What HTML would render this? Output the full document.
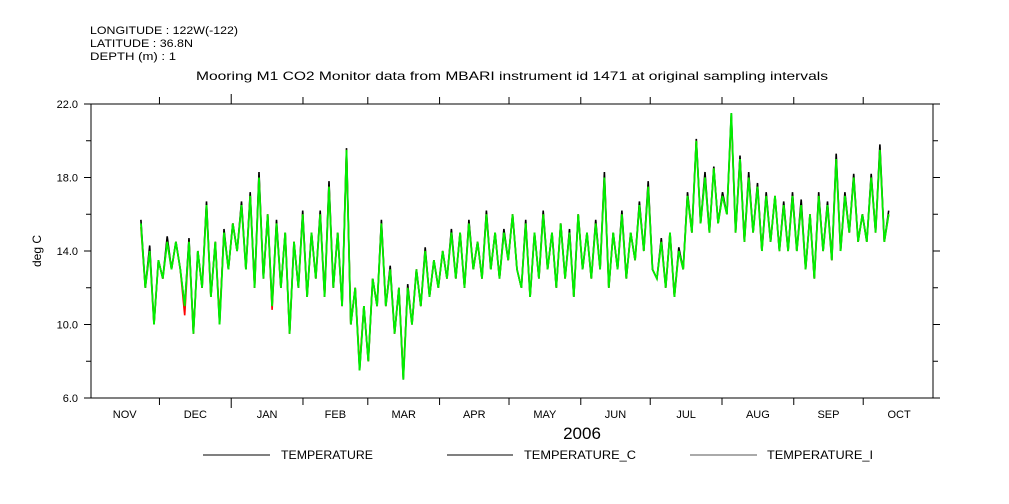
<!DOCTYPE html>
<html><head><meta charset="utf-8"><style>
body{margin:0;background:#fff;}
svg{display:block;font-family:"Liberation Sans",sans-serif;}
</style></head><body>
<svg id="chart" width="1009" height="504" viewBox="0 0 1009 504" xmlns="http://www.w3.org/2000/svg">
<rect width="1009" height="504" fill="#fff"/>
<g font-size="11" fill="#000">
<text x="90" y="34" textLength="148" lengthAdjust="spacingAndGlyphs">LONGITUDE : 122W(-122)</text>
<text x="90" y="47" textLength="103" lengthAdjust="spacingAndGlyphs">LATITUDE : 36.8N</text>
<text x="90" y="60" textLength="86" lengthAdjust="spacingAndGlyphs">DEPTH (m) : 1</text>
<text x="196" y="80" font-size="12" textLength="632" lengthAdjust="spacingAndGlyphs">Mooring M1 CO2 Monitor data from MBARI instrument id 1471 at original sampling intervals</text>
<text transform="translate(41,251) rotate(-90)" text-anchor="middle" font-size="12">deg C</text>
<text x="582" y="439" text-anchor="middle" font-size="17">2006</text>
</g>
<g id="axes"></g>
<g id="series"></g>
<g font-size="12">
<g><line x1="203" y1="455" x2="270" y2="455" stroke="#000"/><text x="281" y="459" textLength="92" lengthAdjust="spacingAndGlyphs">TEMPERATURE</text></g>
<g><line x1="447" y1="455" x2="513" y2="455" stroke="#000"/><text x="524" y="459" textLength="112" lengthAdjust="spacingAndGlyphs">TEMPERATURE_C</text></g>
<g><line x1="690" y1="455" x2="757" y2="455" stroke="#555"/><text x="767" y="459" textLength="106" lengthAdjust="spacingAndGlyphs">TEMPERATURE_I</text></g>
</g>
</svg>
<script>
const months=["NOV","DEC","JAN","FEB","MAR","APR","MAY","JUN","JUL","AUG","SEP","OCT"];
const monthDays=[30,31,31,28,31,30,31,30,31,31,30,31];
const yTicks=[6,10,14,18,22];
const yMinor=[8,12,16,20];
const startDay=22, endDay=345;
const tempI=[15.5,12,14,10,13.5,12.5,14.5,13,14.5,13,
11,14.5,9.5,14,12,16.5,11.5,14.5,10,15,13,15.5,14,16.5,13,17,
12,18,12.5,16,11,15.5,12,15,9.5,14.5,12,16,11.5,15,12.5,16,
11.5,17.5,12,15,11,19.5,10,12,7.5,11,8,12.5,11,15.5,
11,13,9.5,12,7,12,10,13,11,14,11.5,13.5,12,14,12.5,15,
12.5,15,12,15.5,13,14.5,12.5,16,13,15,12.5,15,13.5,16,13,
12,15.5,11.5,15,12.5,16,13,15,12,15.5,12.5,15,11.5,16,13,15,
12.5,15.5,13,18,12,15,13,16,12.5,15,13.5,16.5,14,17.5,13,
12.5,14.5,12,15,11.5,14,13,17,15,20,15.5,18,15,18.5,15.5,17,
16,21.5,15,19,14.5,18,15,17.5,14,17,14.5,17,14,16.5,14,17,
14,16.5,13,16,12.5,17,14,16.5,13.5,19,14,17,15,18,14.5,
16,14.5,18,15,19.5,14.5,16];
const tempBlack=[15.7,12,14.3,10,13.5,12.5,14.8,13,14.5,13,
11,14.7,9.5,14,12,16.7,11.5,14.5,10,15.2,13,15.5,14,16.7,13,17.2,
12,18.3,12.5,16,11,15.7,12,15,9.5,14.5,12,16.2,11.5,15,12.5,16.2,
11.5,17.8,12,15,11,19.6,10,12,7.5,11,8,12.5,11,15.7,
11,13.2,9.5,12,7,12.2,10,13,11,14.2,11.5,13.5,12,14,12.5,15.2,
12.5,15,12,15.7,13,14.5,12.5,16.2,13,15,12.5,15.2,13.5,16,13,
12,15.7,11.5,15,12.5,16.2,13,15,12,15.5,12.5,15.2,11.5,16,13,15,
12.5,15.7,13,18.3,12,15,13,16.2,12.5,15,13.5,16.7,14,17.8,13,
12.5,14.7,12,15,11.5,14.2,13,17.2,15,20.1,15.5,18.3,15,18.6,15.5,17.2,
16,21.5,15,19.2,14.5,18.3,15,17.7,14,17.2,14.5,17,14,16.7,14,17.2,
14,16.8,13,16,12.5,17.2,14,16.7,13.5,19.3,14,17.2,15,18.2,14.5,
16,14.5,18.2,15,19.8,14.5,16.2];
const tempC=[15.3,12,14,10,13.5,12.5,14.5,13,14.5,13,
10.5,14.5,9.5,14,12,16.5,11.5,14.5,10.3,15,13,15.5,14,16.5,13,17,
12,18,12.5,16,10.8,15.5,12,15,9.5,14.5,12,16,11.5,15,12.5,16,
11.5,17.5,12,15,11,19.5,10,12,7.8,11,8,12.5,11,15.5,
11,13,9.5,12,7.2,12,10,13,11,14,11.5,13.5,12,14,12.5,15,
12.5,15,12,15.5,13,14.5,12.5,16,13,15,12.5,15,13.5,16,13,
12,15.5,11.5,15,12.5,16,13,15,12,15.5,12.5,15,11.5,16,13,15,
12.5,15.5,13,18,12,15,13,16,12.5,15,13.5,16.5,14,17.5,13,
12.5,14.5,12,15,11.5,14,13,17,15,20,15.5,18,15,18.5,15.5,17,
16,21.3,15,19,14.5,18,15,17.5,14,17,14.5,17,14,16.5,14,17,
14,16.5,13,16,12.5,17,14,16.5,13.5,19,14,17,15,18,14.5,
16,14.5,18,15,19.5,14.5,16];
const X=d=>90+d*2.315, Y=v=>104+(22-v)*294/16;
const NS="http://www.w3.org/2000/svg";
function mk(t,a,p){const e=document.createElementNS(NS,t);for(const k in a)e.setAttribute(k,a[k]);p.appendChild(e);return e;}
const ax=document.getElementById('axes');
const fr=mk('rect',{x:91,y:104,width:842,height:294,fill:'none',stroke:'#000','stroke-width':1},ax);


yTicks.forEach(v=>{const y=Y(v);
mk('line',{x1:84,y1:y,x2:91,y2:y,stroke:'#000'},ax);mk('line',{x1:933,y1:y,x2:940,y2:y,stroke:'#000'},ax);
const t=mk('text',{x:78,y:y+4,'text-anchor':'end','font-size':11},ax);t.textContent=v.toFixed(1);

});
yMinor.forEach(v=>{const y=Y(v);mk('line',{x1:86,y1:y,x2:91,y2:y,stroke:'#000'},ax);mk('line',{x1:933,y1:y,x2:938,y2:y,stroke:'#000'},ax);});
let d=0;months.forEach((m,i)=>{const x0=X(d),x1=X(d+monthDays[i]);
const big=(m==="JAN");
if(i>0){mk('line',{x1:x0,y1:398,x2:x0,y2:big?408:405,stroke:'#000'},ax);mk('line',{x1:x0,y1:104,x2:x0,y2:big?94:97,stroke:'#000'},ax);}
const t=mk('text',{x:(x0+x1)/2,y:418,'text-anchor':'middle','font-size':11},ax);t.textContent=m;


d+=monthDays[i];});
const sg=document.getElementById('series');
function line(arr,col,name,w){const n=arr.length;const pts=arr.map((v,i)=>X(startDay+i*(endDay-startDay)/(n-1)).toFixed(1)+','+Y(v).toFixed(1)).join(' ');
const p=mk('polyline',{points:pts,fill:'none',stroke:col,'stroke-width':w},sg);

}
line(tempBlack,'#000','series-temperature',1.6);
line(tempC,'#ff0000','series-temperature-c',1.6);
line(tempI,'#00ee00','series-temperature-i',1.8);
</script>
</body></html>
